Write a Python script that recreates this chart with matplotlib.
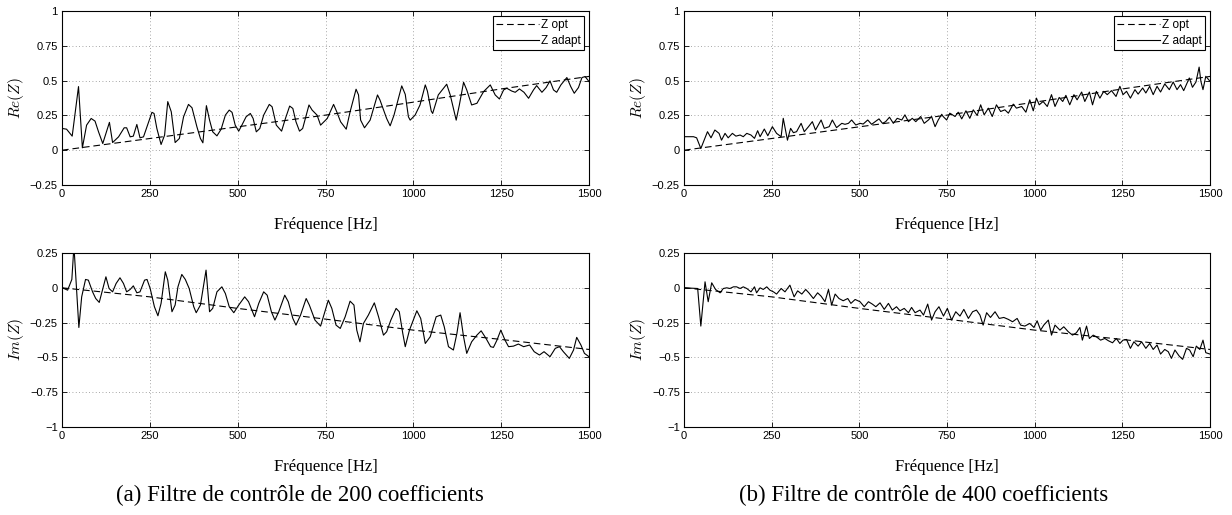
import matplotlib
matplotlib.use("Agg")
import matplotlib.pyplot as plt

# Z opt (dashed reference), same for both filters
FREQ_OPT = [0, 250, 500, 750, 1000, 1250, 1500]
RE_OPT = [0.0, 0.084, 0.168, 0.252, 0.345, 0.440, 0.530]
IM_OPT = [0.0, -0.065, -0.148, -0.225, -0.304, -0.371, -0.443]

# (a) 200 coefficients -- Re(Z adapt)
FREQ_RE_A = [1, 13, 29, 47, 58, 70, 83, 94, 104, 116, 135, 144, 161, 177, 184, 194, 203,
             213, 222, 232, 256, 262, 270, 282, 292, 301, 311, 322, 334, 346, 360, 370,
             384, 394, 401, 411, 420, 429, 441, 453, 465, 476, 484, 493, 503, 512, 524,
             536, 544, 553, 563, 574, 590, 598, 610, 625, 636, 648, 657, 666, 676, 685,
             703, 712, 726, 736, 755, 773, 782, 793, 809, 820, 837, 844, 850, 861, 877,
             898, 905, 924, 934, 945, 967, 977, 986, 991, 1005, 1019, 1034, 1040, 1051,
             1055, 1071, 1095, 1105, 1122, 1131, 1143, 1152, 1166, 1181, 1200, 1219,
             1233, 1245, 1257, 1266, 1280, 1290, 1302, 1315, 1328, 1342, 1351, 1366,
             1378, 1389, 1399, 1408, 1420, 1437, 1448, 1458, 1470, 1480, 1489, 1500]
RE_A = [0.156, 0.151, 0.101, 0.457, 0.017, 0.180, 0.228, 0.209, 0.132, 0.048, 0.200,
        0.055, 0.096, 0.161, 0.161, 0.096, 0.101, 0.185, 0.089, 0.096, 0.272, 0.264,
        0.156, 0.041, 0.108, 0.349, 0.276, 0.055, 0.084, 0.240, 0.329, 0.305, 0.168,
        0.084, 0.053, 0.320, 0.216, 0.132, 0.103, 0.151, 0.252, 0.288, 0.272, 0.180,
        0.137, 0.180, 0.240, 0.264, 0.228, 0.132, 0.156, 0.252, 0.329, 0.312, 0.180,
        0.137, 0.228, 0.317, 0.300, 0.204, 0.137, 0.156, 0.325, 0.288, 0.252, 0.180,
        0.228, 0.329, 0.276, 0.204, 0.151, 0.276, 0.438, 0.397, 0.216, 0.161, 0.216,
        0.397, 0.361, 0.228, 0.175, 0.252, 0.462, 0.401, 0.240, 0.216, 0.252, 0.325,
        0.469, 0.425, 0.281, 0.264, 0.397, 0.474, 0.397, 0.216, 0.325, 0.488, 0.433,
        0.325, 0.337, 0.421, 0.469, 0.397, 0.368, 0.433, 0.445, 0.425, 0.416, 0.440,
        0.416, 0.373, 0.433, 0.464, 0.416, 0.450, 0.498, 0.433, 0.416, 0.469, 0.522,
        0.457, 0.409, 0.450, 0.522, 0.529, 0.493]

# (a) 200 coefficients -- Im(Z adapt)
FREQ_IM_A = [1, 16, 28, 34, 48, 56, 67, 75, 87, 96, 106, 115, 125, 134, 144, 154, 165,
             175, 184, 194, 203, 213, 222, 235, 242, 251, 263, 273, 282, 294, 301, 313,
             322, 330, 341, 351, 362, 375, 382, 394, 410, 420, 429, 441, 455, 465, 476,
             489, 503, 520, 531, 548, 560, 574, 584, 596, 606, 617, 634, 644, 657, 666,
             679, 695, 704, 720, 736, 744, 758, 768, 780, 792, 806, 820, 831, 839, 848,
             858, 872, 889, 901, 915, 924, 936, 951, 960, 970, 977, 989, 1010, 1021,
             1034, 1048, 1065, 1078, 1088, 1100, 1114, 1124, 1133, 1143, 1152, 1166,
             1181, 1193, 1207, 1220, 1228, 1238, 1249, 1261, 1271, 1285, 1299, 1314,
             1331, 1344, 1359, 1372, 1389, 1404, 1416, 1427, 1444, 1456, 1465, 1477,
             1487, 1500]
IM_A = [0.0, -0.017, 0.060, 0.300, -0.285, -0.065, 0.060, 0.055, -0.029, -0.077,
        -0.105, -0.017, 0.079, -0.005, -0.029, 0.031, 0.072, 0.031, -0.029, -0.012,
        0.014, -0.036, -0.029, 0.055, 0.060, -0.005, -0.136, -0.201, -0.112, 0.115,
        0.055, -0.172, -0.124, 0.007, 0.096, 0.060, -0.005, -0.136, -0.179, -0.124,
        0.127, -0.172, -0.148, -0.029, 0.007, -0.041, -0.136, -0.179, -0.124, -0.065,
        -0.100, -0.208, -0.112, -0.029, -0.053, -0.172, -0.232, -0.172, -0.053, -0.100,
        -0.220, -0.268, -0.196, -0.077, -0.124, -0.232, -0.275, -0.208, -0.089, -0.148,
        -0.268, -0.292, -0.208, -0.096, -0.124, -0.304, -0.388, -0.256, -0.196, -0.108,
        -0.208, -0.340, -0.316, -0.232, -0.148, -0.172, -0.328, -0.423, -0.304, -0.165,
        -0.220, -0.400, -0.352, -0.208, -0.196, -0.280, -0.423, -0.447, -0.328, -0.179,
        -0.352, -0.471, -0.388, -0.340, -0.309, -0.364, -0.423, -0.428, -0.376, -0.304,
        -0.376, -0.423, -0.419, -0.404, -0.423, -0.411, -0.459, -0.483, -0.459, -0.495,
        -0.435, -0.423, -0.459, -0.507, -0.447, -0.356, -0.411, -0.471, -0.495]

# (b) 400 coefficients -- Re(Z adapt)
FREQ_RE_B = [0, 27, 36, 48, 67, 77, 88, 100, 107, 117, 126, 138, 148, 160, 169, 179,
             191, 201, 210, 217, 229, 239, 252, 264, 277, 283, 295, 304, 312, 321, 334,
             343, 355, 366, 375, 391, 400, 414, 423, 435, 450, 459, 469, 478, 490, 502,
             511, 524, 535, 545, 556, 566, 575, 586, 597, 608, 621, 630, 640, 651, 661,
             675, 685, 697, 706, 716, 725, 735, 739, 749, 758, 773, 782, 792, 804, 815,
             825, 836, 846, 856, 868, 879, 891, 903, 915, 925, 939, 948, 963, 975, 986,
             996, 1005, 1013, 1024, 1036, 1048, 1058, 1070, 1080, 1089, 1100, 1112, 1121,
             1134, 1143, 1156, 1165, 1176, 1186, 1197, 1207, 1219, 1232, 1243, 1252,
             1262, 1273, 1286, 1295, 1308, 1317, 1328, 1338, 1349, 1359, 1371, 1384,
             1395, 1406, 1416, 1425, 1441, 1450, 1460, 1469, 1474, 1480, 1488, 1500]
RE_B = [0.097, 0.097, 0.089, 0.012, 0.133, 0.089, 0.145, 0.121, 0.072, 0.121, 0.089,
        0.121, 0.101, 0.109, 0.097, 0.121, 0.109, 0.085, 0.140, 0.097, 0.152, 0.104,
        0.169, 0.121, 0.097, 0.229, 0.072, 0.157, 0.126, 0.133, 0.193, 0.133, 0.169,
        0.205, 0.145, 0.217, 0.157, 0.169, 0.217, 0.162, 0.193, 0.186, 0.193, 0.217,
        0.181, 0.193, 0.188, 0.217, 0.186, 0.205, 0.225, 0.193, 0.205, 0.237, 0.193,
        0.229, 0.217, 0.254, 0.205, 0.229, 0.205, 0.242, 0.193, 0.217, 0.242, 0.169,
        0.217, 0.258, 0.242, 0.217, 0.266, 0.242, 0.273, 0.225, 0.283, 0.229, 0.290,
        0.249, 0.326, 0.254, 0.302, 0.242, 0.326, 0.278, 0.290, 0.266, 0.331, 0.302,
        0.314, 0.273, 0.362, 0.283, 0.374, 0.326, 0.350, 0.314, 0.399, 0.314, 0.379,
        0.350, 0.394, 0.326, 0.399, 0.362, 0.418, 0.350, 0.418, 0.326, 0.423, 0.374,
        0.423, 0.399, 0.428, 0.386, 0.459, 0.399, 0.423, 0.374, 0.435, 0.403, 0.447,
        0.411, 0.459, 0.399, 0.459, 0.418, 0.476, 0.435, 0.490, 0.435, 0.471, 0.428,
        0.519, 0.452, 0.490, 0.597, 0.495, 0.435, 0.531, 0.495]

# (b) 400 coefficients -- Im(Z adapt)
FREQ_IM_B = [0, 39, 48, 60, 69, 79, 90, 103, 112, 122, 131, 141, 150, 160, 169, 179,
             191, 201, 207, 217, 226, 236, 245, 255, 264, 277, 288, 302, 314, 324, 336,
             347, 356, 369, 381, 391, 402, 412, 421, 431, 442, 454, 467, 476, 488, 502,
             514, 526, 537, 547, 559, 571, 583, 594, 606, 616, 628, 640, 649, 659, 673,
             683, 695, 706, 716, 727, 740, 751, 763, 775, 787, 798, 811, 823, 834, 844,
             853, 863, 874, 887, 899, 912, 925, 937, 950, 960, 972, 986, 998, 1007, 1017,
             1026, 1039, 1048, 1058, 1072, 1083, 1096, 1108, 1119, 1129, 1136, 1148,
             1156, 1167, 1176, 1188, 1200, 1210, 1222, 1233, 1243, 1252, 1262, 1273,
             1283, 1295, 1305, 1317, 1328, 1338, 1349, 1359, 1371, 1381, 1390, 1400,
             1412, 1422, 1433, 1442, 1452, 1461, 1471, 1480, 1488, 1500]
IM_B = [0.0, -0.005, -0.275, 0.043, -0.100, 0.036, -0.012, -0.036, -0.005, 0.0,
        -0.005, 0.007, 0.007, -0.005, 0.007, -0.005, -0.029, 0.007, -0.036, 0.0,
        -0.012, 0.007, -0.017, -0.029, -0.045, -0.005, -0.029, 0.019, -0.065, -0.022,
        -0.045, -0.012, -0.036, -0.077, -0.036, -0.060, -0.100, -0.012, -0.124, -0.045,
        -0.077, -0.093, -0.077, -0.112, -0.084, -0.100, -0.136, -0.100, -0.117, -0.136,
        -0.108, -0.155, -0.112, -0.160, -0.136, -0.165, -0.148, -0.179, -0.141, -0.179,
        -0.160, -0.196, -0.117, -0.232, -0.172, -0.136, -0.203, -0.148, -0.232, -0.172,
        -0.203, -0.155, -0.220, -0.172, -0.160, -0.196, -0.268, -0.179, -0.213, -0.172,
        -0.220, -0.213, -0.227, -0.244, -0.220, -0.268, -0.275, -0.256, -0.285, -0.237,
        -0.304, -0.268, -0.232, -0.340, -0.268, -0.304, -0.280, -0.316, -0.340, -0.323,
        -0.285, -0.376, -0.275, -0.364, -0.340, -0.352, -0.376, -0.364, -0.380, -0.395,
        -0.364, -0.400, -0.376, -0.371, -0.435, -0.388, -0.419, -0.388, -0.435, -0.400,
        -0.443, -0.411, -0.476, -0.443, -0.459, -0.507, -0.447, -0.490, -0.514, -0.435,
        -0.447, -0.495, -0.419, -0.443, -0.376, -0.466, -0.476]

X_TICKS = [0, 250, 500, 750, 1000, 1250, 1500]
RE_TICKS = [-0.25, 0, 0.25, 0.5, 0.75, 1]
IM_TICKS = [-1, -0.75, -0.5, -0.25, 0, 0.25]
TICK_LABELS_RE = ["\u22120.25", "0", "0.25", "0.5", "0.75", "1"]
TICK_LABELS_IM = ["\u22121", "\u22120.75", "\u22120.5", "\u22120.25", "0", "0.25"]
CAPTIONS = ["(a) Filtre de contrôle de 200 coefficients",
            "(b) Filtre de contrôle de 400 coefficients"]

plt.rcParams["mathtext.fontset"] = "cm"
SANS = ["Liberation Sans", "DejaVu Sans"]
SERIF = ["Liberation Serif", "DejaVu Serif"]

W, H = 1232, 515
fig = plt.figure(figsize=(W / 100, H / 100), dpi=100)


def px_axes(left, top, right, bottom):
    return fig.add_axes([left / W, 1 - bottom / H, (right - left) / W, (bottom - top) / H])


def style(ax, yticks, ylabels, ylim, ylabel):
    ax.set_xlim(0, 1500)
    ax.set_ylim(*ylim)
    ax.set_xticks(X_TICKS)
    ax.set_xticklabels([str(t) for t in X_TICKS], family=SANS, fontsize=8)
    ax.set_yticks(yticks)
    ax.set_yticklabels(ylabels, family=SANS, fontsize=8)
    ax.tick_params(direction="in", top=True, right=True, length=3.5, width=0.6, pad=3)
    ax.grid(True, color="#8a8a8a", linestyle=(0, (1, 3)), linewidth=0.6)
    for s in ax.spines.values():
        s.set_linewidth(0.8)
    ax.set_xlabel("Fréquence [Hz]", family=SERIF, fontsize=12, labelpad=13)
    ax.set_ylabel(ylabel, fontsize=11, labelpad=3)


panels = [
    (62, 589, FREQ_RE_A, RE_A, FREQ_IM_A, IM_A),
    (684, 1210, FREQ_RE_B, RE_B, FREQ_IM_B, IM_B),
]

for left, right, fr, re, fi, im in panels:
    ax_re = px_axes(left, 11, right, 185)
    ax_re.plot(FREQ_OPT, RE_OPT, color="k", lw=0.8, linestyle=(0, (6, 3.5)), label="Z opt")
    ax_re.plot(fr, re, color="k", lw=0.8, label="Z adapt")
    style(ax_re, RE_TICKS, TICK_LABELS_RE, (-0.25, 1), r"$Re(Z)$")
    leg = ax_re.legend(loc="upper right", prop={"family": SANS, "size": 8.5},
                       fancybox=False, framealpha=1, edgecolor="k",
                       handlelength=3.6, handletextpad=0.2, borderpad=0.3,
                       labelspacing=0.3, borderaxespad=0.4)
    leg.get_frame().set_linewidth(0.8)

    ax_im = px_axes(left, 253, right, 427)
    ax_im.plot(FREQ_OPT, IM_OPT, color="k", lw=0.8, linestyle=(0, (6, 3.5)))
    ax_im.plot(fi, im, color="k", lw=0.8)
    style(ax_im, IM_TICKS, TICK_LABELS_IM, (-1, 0.25), r"$Im(Z)$")

fig.text(300 / W, 1 - 495 / H, CAPTIONS[0], family=SERIF, fontsize=16.5,
         ha="center", va="center")
fig.text(924 / W, 1 - 495 / H, CAPTIONS[1], family=SERIF, fontsize=16.5,
         ha="center", va="center")

fig.savefig("out.png", dpi=100)
